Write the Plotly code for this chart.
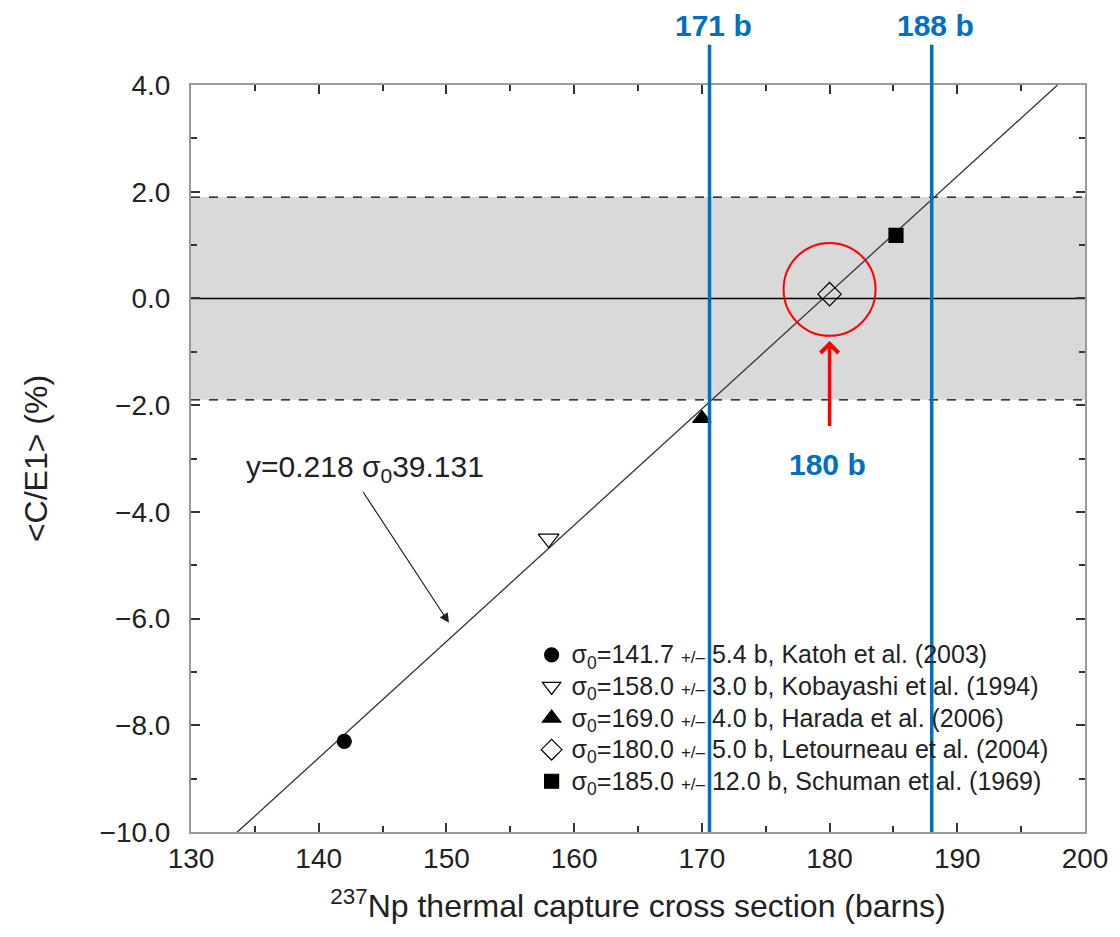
import plotly.graph_objects as go

# ---- data ----
sigma_pts = [142.0, 158.0, 170.0, 180.0, 185.2]
ce_pts = [-8.3, -4.5, -2.25, 0.08, 1.18]
symbols = ["circle", "triangle-down-open", "triangle-up", "diamond-open", "square"]
sizes = [14, 18, 16, 18, 14]
sigma_legend = ["141.7", "158.0", "169.0", "180.0", "185.0"]
sigma_err = ["5.4", "3.0", "4.0", "5.0", "12.0"]
authors = ["Katoh et al. (2003)", "Kobayashi et al. (1994)", "Harada et al. (2006)",
           "Letourneau et al. (2004)", "Schuman et al. (1969)"]
fit_slope = 0.218
fit_intercept = -39.131
fit_x = [133.6, 197.85]
band = [-1.9, 1.9]
x_range = [130, 200]
y_range = [-10, 4]
marked_lines = [170.6, 188.0]
marked_labels = ["171 b", "188 b"]
label_x = [170.9, 188.3]
best_value = 180.0
best_label = "180 b"

BLUE = "#0070C0"
FONT = "Liberation Sans, Arial, sans-serif"
TXT = "#222222"

fig = go.Figure()

# fitted line
fig.add_trace(go.Scatter(
    x=fit_x, y=[fit_slope * v + fit_intercept for v in fit_x],
    mode="lines", line=dict(color="#333333", width=1.3),
    showlegend=False, hoverinfo="skip"))

# data points
for xs, ys, sym, sz, sl, se, au in zip(sigma_pts, ce_pts, symbols, sizes,
                                       sigma_legend, sigma_err, authors):
    nm = ("<span style='font-size:25px'>σ<sub>0</sub>=" + sl +
          " <span style='font-size:17px'>+/–</span> " + se + " b, " + au + "</span>")
    fig.add_trace(go.Scatter(
        x=[xs], y=[ys], mode="markers", name=nm,
        marker=dict(symbol=sym, size=sz, color="black",
                    line=dict(color="black", width=1.2))))

shapes = []
# grey band
shapes.append(dict(type="rect", xref="x", yref="y", x0=x_range[0], x1=x_range[1],
                   y0=band[0], y1=band[1], fillcolor="#d9d9d9", line=dict(width=0),
                   layer="below"))
for b in band:
    shapes.append(dict(type="line", xref="x", yref="y", x0=x_range[0], x1=x_range[1],
                       y0=b, y1=b, line=dict(color="black", width=1.3, dash="dash"),
                       layer="below"))
shapes.append(dict(type="line", xref="x", yref="y", x0=x_range[0], x1=x_range[1],
                   y0=0, y1=0, line=dict(color="black", width=1.5), layer="below"))
# blue vertical lines
for xv in marked_lines:
    shapes.append(dict(type="line", xref="x", yref="paper", x0=xv, x1=xv,
                       y0=0, y1=1.054, line=dict(color=BLUE, width=3.5)))
# red circle
shapes.append(dict(type="circle", xref="x", yref="y",
                   x0=best_value - 3.6, x1=best_value + 3.6, y0=0.17 - 0.87, y1=0.17 + 0.87,
                   line=dict(color="#FF0000", width=2)))

annotations = []
for xv, lab in zip(label_x, marked_labels):
    annotations.append(dict(x=xv, y=1.08, xref="x", yref="paper", text="<b>" + lab + "</b>",
                            showarrow=False, font=dict(family=FONT, size=30, color=BLUE),
                            xanchor="center", yanchor="middle"))
annotations.append(dict(x=179.8, y=-3.11, xref="x", yref="y", text="<b>" + best_label + "</b>",
                        showarrow=False, font=dict(family=FONT, size=30, color=BLUE)))
# red arrow
annotations.append(dict(x=best_value, y=-0.8, xref="x", yref="y",
                        ax=best_value, ay=-2.42, axref="x", ayref="y",
                        text="", showarrow=True, arrowhead=4, arrowsize=1,
                        arrowwidth=3.5, arrowcolor="#FF0000"))
# equation text + arrow
annotations.append(dict(x=143.6, y=-3.19, xref="x", yref="y",
                        text="y=0.218 σ<sub>0</sub>39.131", showarrow=False,
                        font=dict(family=FONT, size=30, color=TXT)))
annotations.append(dict(x=150.2, y=-6.08, xref="x", yref="y",
                        ax=143.4, ay=-3.6, axref="x", ayref="y",
                        text="", showarrow=True, arrowhead=2, arrowsize=1.6,
                        arrowwidth=1.2, arrowcolor=TXT))

fig.update_layout(
    width=1112, height=929,
    margin=dict(l=183, r=32, t=77, b=105),
    plot_bgcolor="white", paper_bgcolor="white",
    font=dict(family=FONT, size=28, color=TXT),
    shapes=shapes, annotations=annotations,
    legend=dict(x=0.381, y=0.265, xanchor="left", yanchor="top",
                bgcolor="rgba(0,0,0,0)", font=dict(family=FONT, size=22, color=TXT),
                tracegroupgap=0, itemsizing="trace"),
    showlegend=True,
)
fig.update_xaxes(
    range=x_range, dtick=10, tick0=130, ticks="inside", ticklen=9, tickwidth=1.5,
    tickcolor="#333", showline=True, linecolor="#999", linewidth=2, mirror="ticks",
    showgrid=False, zeroline=False,
    minor=dict(dtick=5, ticks="inside", ticklen=6, tickcolor="#333", showgrid=False),
    title=dict(text="<sup>237</sup>Np thermal capture cross section (barns)",
               font=dict(size=32), standoff=22),
    tickfont=dict(size=28), ticklabelstandoff=0,
)
fig.update_yaxes(
    range=y_range, dtick=2, tick0=0, tickformat=".1f", ticks="inside", ticklen=9,
    tickwidth=1.5, tickcolor="#333", showline=True, linecolor="#999", linewidth=2,
    mirror="ticks", showgrid=False, zeroline=False,
    minor=dict(dtick=1, ticks="inside", ticklen=6, tickcolor="#333", showgrid=False),
    title=dict(text="<C/E1> (%)", font=dict(size=32), standoff=42),
    tickfont=dict(size=28), ticklabelstandoff=13,
)

fig.write_html("out.html")
